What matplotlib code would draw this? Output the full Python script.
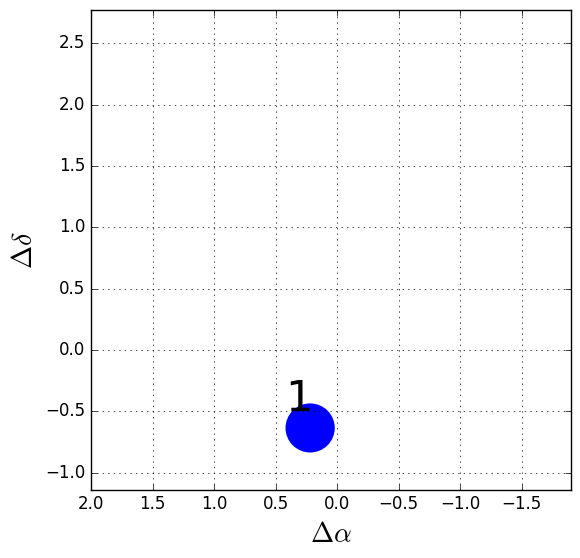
import matplotlib
matplotlib.use('Agg')
import matplotlib.pyplot as plt
from matplotlib.patches import Circle

# source positions (offsets) and labels
dra = [0.22]
ddec = [-0.635]
radius = [0.2]
labels = ["1"]

plt.style.use('classic')
fig = plt.figure(figsize=(5.8, 5.58), dpi=100, facecolor='white')
ax = fig.add_axes([0.157, 0.122, 0.8276, 0.860])

for x, y, r, lab in zip(dra, ddec, radius, labels):
    ax.add_patch(Circle((x, y), r, color='blue', ec='none'))
    ax.text(x + 0.20, y + 0.135, lab, fontsize=31, ha='left', va='baseline')

ax.set_xlim(2.0, -1.9)
ax.set_ylim(-1.14, 2.77)
ax.set_xticks([2.0, 1.5, 1.0, 0.5, 0.0, -0.5, -1.0, -1.5])
ax.set_yticks([-1.0, -0.5, 0.0, 0.5, 1.0, 1.5, 2.0, 2.5])
ax.grid(True)
ax.set_xlabel(r'$\Delta\alpha$', fontsize=20)
ax.set_ylabel(r'$\Delta\delta$', fontsize=20)

plt.savefig("out.png", dpi=100, facecolor='white')
